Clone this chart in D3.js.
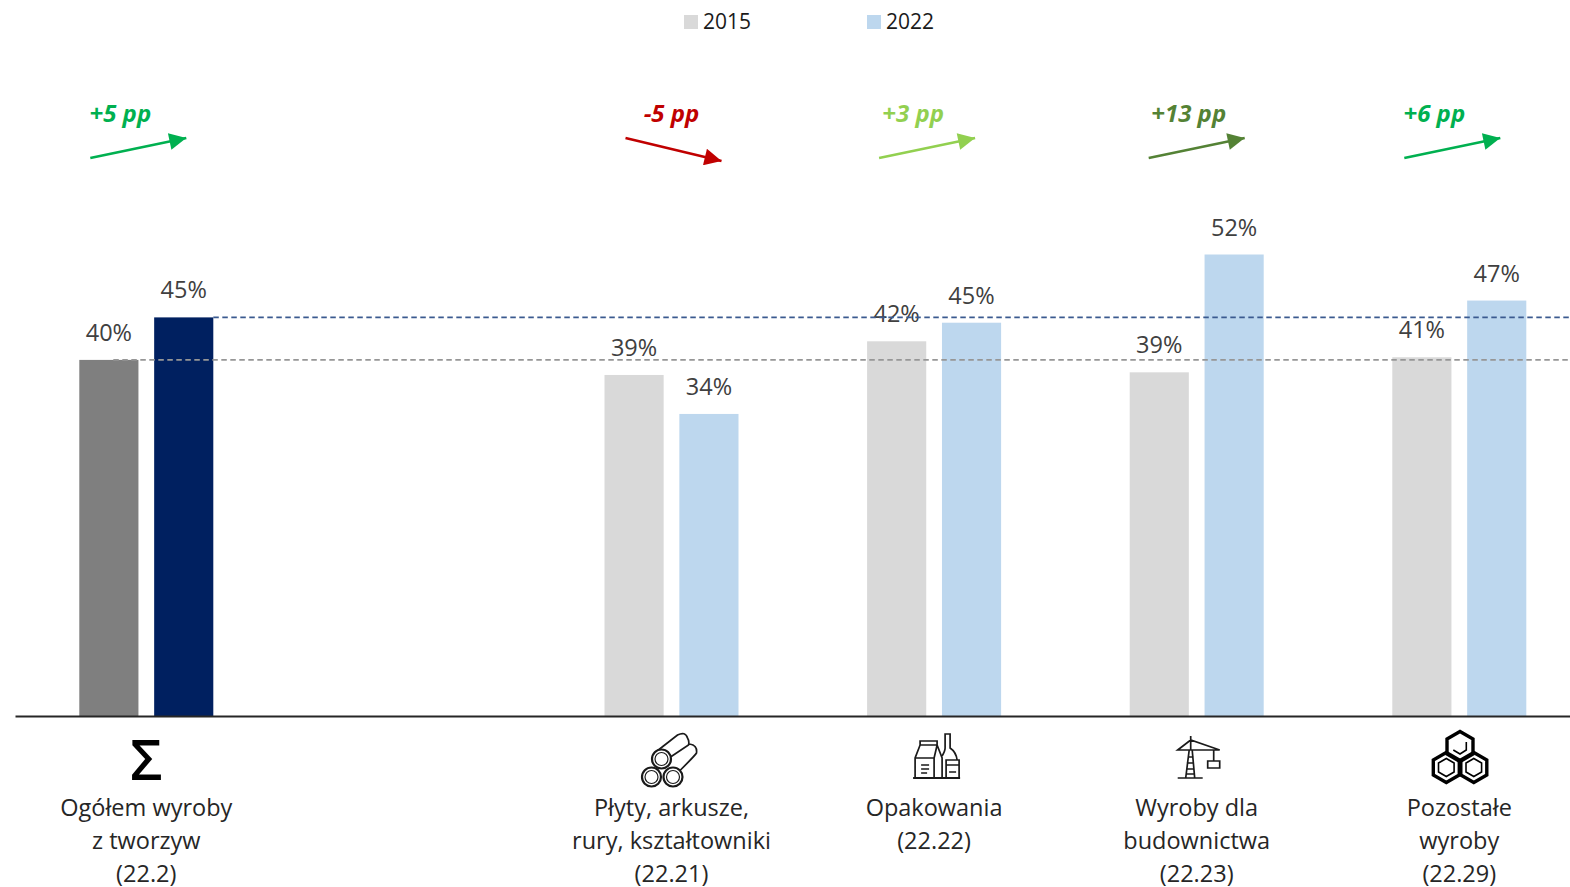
<!DOCTYPE html>
<html>
<head>
<meta charset="utf-8">
<script src="https://cdn.jsdelivr.net/npm/d3@7"></script>
<style>
  html, body { margin: 0; padding: 0; background: #fff; overflow: hidden; }
  svg { display: block; font-family: "Open Sans", sans-serif; }
</style>
</head>
<body>
<div id="chart"></div>
<script>
// data
const categories = ['total', 'gap', 'plyty', 'opakowania', 'budownictwo', 'pozostale'];
const years = ['2015', '2022'];
const values2015 = [40.2, null, 38.5, 42.3, 38.8, 40.5];
const values2022 = [45, null, 34.1, 44.4, 52.1, 46.9];
const labels2015 = ['40%', '', '39%', '42%', '39%', '41%'];
const labels2022 = ['45%', '', '34%', '45%', '52%', '47%'];
const changes = ['+5 pp', '', '-5 pp', '+3 pp', '+13 pp', '+6 pp'];
const changeColors = ['#00b050', null, '#c00000', '#92d050', '#548235', '#00b050'];
const nameLines = [
  ['Ogółem wyroby', 'z tworzyw', '(22.2)'],
  [],
  ['Płyty, arkusze,', 'rury, kształtowniki', '(22.21)'],
  ['Opakowania', '(22.22)'],
  ['Wyroby dla', 'budownictwa', '(22.23)'],
  ['Pozostałe', 'wyroby', '(22.29)']
];

const width = 1570, height = 887;
const baseline = 716;

const svg = d3.select('#chart').append('svg')
  .attr('width', width)
  .attr('height', height);

const x = d3.scaleBand().domain(categories).range([15, 1590.6]);
const inner = d3.scaleBand().domain(years).range([-67, 67]).paddingInner(0.21);
const y = d3.scaleLinear().domain([0, 52.1]).range([baseline, 254.5]);
const center = c => x(c) + x.bandwidth() / 2;

function barColor(year, i) {
  if (i === 0) return year === '2015' ? '#7f7f7f' : '#002060';
  return year === '2015' ? '#d9d9d9' : '#bdd7ee';
}

// bars
[[years[0], values2015, labels2015], [years[1], values2022, labels2022]].forEach(([year, values, labels]) => {
  const rows = categories.map((c, i) => ({ c, i, v: values[i], label: labels[i] })).filter(d => d.v !== null);

  svg.append('g').selectAll('rect')
    .data(rows)
    .enter().append('rect')
    .attr('x', d => center(d.c) + inner(year))
    .attr('width', inner.bandwidth())
    .attr('y', d => y(d.v))
    .attr('height', d => baseline - y(d.v))
    .attr('fill', d => barColor(year, d.i));

  svg.append('g').selectAll('text')
    .data(rows)
    .enter().append('text')
    .attr('x', d => center(d.c) + inner(year) + inner.bandwidth() / 2)
    .attr('y', d => y(d.v) - 19)
    .attr('text-anchor', 'middle')
    .attr('font-size', 23.5)
    .attr('fill', '#404040')
    .text(d => d.label);
});

// reference lines at the total values
const refs = [
  { v: values2015[0], from: center('total') - 33, color: '#969696' },
  { v: values2022[0], from: center('total') + 67, color: '#3b5a8f' }
];
svg.append('g').selectAll('line')
  .data(refs)
  .enter().append('line')
  .attr('x1', d => d.from)
  .attr('x2', width)
  .attr('y1', d => y(d.v))
  .attr('y2', d => y(d.v))
  .attr('stroke', d => d.color)
  .attr('stroke-width', 1.6)
  .attr('stroke-dasharray', '5.5 3.5');

// axis
const axis = svg.append('g')
  .attr('transform', `translate(0,${baseline})`)
  .call(d3.axisBottom(x).tickSize(0).tickFormat(''));
axis.select('.domain').attr('stroke', '#262626').attr('stroke-width', 2);

// category names
categories.forEach((c, i) => {
  svg.append('g').selectAll('text')
    .data(nameLines[i])
    .enter().append('text')
    .attr('x', center(c))
    .attr('y', (d, j) => 815.5 + j * 33)
    .attr('text-anchor', 'middle')
    .attr('font-size', 23.5)
    .attr('fill', '#262626')
    .text(d => d);
});

// change labels and arrows
svg.append('defs').selectAll('marker')
  .data(categories.filter((c, i) => changes[i]))
  .enter().append('marker')
  .attr('id', d => 'arrow-' + d)
  .attr('viewBox', '0 0 10 10')
  .attr('refX', 10)
  .attr('refY', 5)
  .attr('markerUnits', 'userSpaceOnUse')
  .attr('markerWidth', 19)
  .attr('markerHeight', 17)
  .attr('orient', 'auto')
  .append('path')
  .attr('d', 'M0,0L10,5L0,10Z')
  .attr('fill', d => changeColors[categories.indexOf(d)]);

const labelShift = [-26, 0, 0, -21, -8, -25];
const arrowShift = [-8, 0, 2, -7, 0, -7];

categories.forEach((c, i) => {
  if (!changes[i]) return;
  const up = changes[i][0] === '+';
  const cx = center(c);
  svg.append('text')
    .attr('x', cx + labelShift[i])
    .attr('y', 122)
    .attr('text-anchor', 'middle')
    .attr('font-size', 24)
    .attr('font-weight', 700)
    .attr('font-style', 'italic')
    .attr('fill', changeColors[i])
    .text(changes[i]);
  svg.append('line')
    .attr('x1', cx + arrowShift[i] - 48)
    .attr('x2', cx + arrowShift[i] + 48)
    .attr('y1', up ? 158 : 138)
    .attr('y2', up ? 138 : 161)
    .attr('stroke', changeColors[i])
    .attr('stroke-width', 2.5)
    .attr('marker-end', `url(#arrow-${c})`);
});

// legend
const legend = svg.append('g').selectAll('g')
  .data(years)
  .enter().append('g')
  .attr('transform', (d, i) => `translate(${684 + i * 183},15)`);
legend.append('rect')
  .attr('width', 14)
  .attr('height', 14)
  .attr('fill', (d, i) => i ? '#bdd7ee' : '#d9d9d9');
legend.append('text')
  .attr('x', 19)
  .attr('y', 14)
  .attr('font-size', 21)
  .attr('fill', '#1a1a1a')
  .text(d => d);

// icons under the axis
const icon = c => svg.append('g')
  .attr('transform', `translate(${center(c)},0)`)
  .attr('fill', 'none')
  .attr('stroke', '#1a1a1a')
  .attr('stroke-width', 1.7);

svg.append('text')
  .attr('x', center('total'))
  .attr('y', 780)
  .attr('text-anchor', 'middle')
  .attr('font-size', 56)
  .attr('font-weight', 600)
  .attr('fill', '#000')
  .text('Σ');

// pipes
const pipes = icon('plyty');
pipes.append('path')
  .attr('d', 'M-17,753L6,735Q14,731 16,738Q18,741 17,745L-1,757M18,744Q26,745 25,753Q24,755 8,771M-18,764L-13,757');
[[-20, 777], [1.5, 777], [-10, 759]].forEach(([cx, cy]) => {
  pipes.append('circle').attr('cx', cx).attr('cy', cy).attr('r', 9.5).attr('fill', '#fff').attr('stroke-width', 2.2);
  pipes.append('circle').attr('cx', cx).attr('cy', cy).attr('r', 6.5).attr('stroke-width', 1.2);
});

// packaging
const pack = icon('opakowania');
pack.append('path').attr('d', 'M-19,778V758L-14,745H3L8,758V778M-19,758H0V778M0,758L3,745M-14,745V741H3V745M-13,765H-5M-13,769H-5M-13,773H-7');
pack.append('path').attr('d', 'M8,756Q11,751 11,748V734H16V748Q22,752 23,760');
pack.append('path').attr('d', 'M12,760H25V765H12ZM12,765V778H25V765M15,772H22');
pack.append('path').attr('d', 'M-21,778H26').attr('stroke-width', 2);

// crane
const crane = icon('budownictwo');
crane.append('path').attr('d', 'M-19,750L-6,740L23,750ZM-6,736V750M-11,778L-7.5,750H-4.5L-2,778M-9,757H-3M-10,763H-3M-10,769H-2M-11,774H-2M-19,778H6M17,750V761M11,761H23V768H11Z');

// hexagons
const hexPoints = (cx, cy, r) => d3.range(6).map(k => {
  const a = Math.PI / 6 + k * Math.PI / 3;
  return [cx + r * Math.cos(a), cy + r * Math.sin(a)];
});
const hexes = icon('pozostale').attr('stroke', '#000');
[[0.7, 746.5], [-13, 767.5], [14.5, 767.5]].forEach(([cx, cy], i) => {
  hexes.append('path').attr('d', d3.line()(hexPoints(cx, cy, 15)) + 'Z').attr('stroke-width', 3.4);
  if (i > 0) hexes.append('path').attr('d', d3.line()(hexPoints(cx, cy, 9)) + 'Z').attr('stroke-width', 1.6);
});
hexes.append('path').attr('d', 'M-6,750L0.7,754L7,750V742').attr('stroke-width', 1.6);
</script>
</body>
</html>
